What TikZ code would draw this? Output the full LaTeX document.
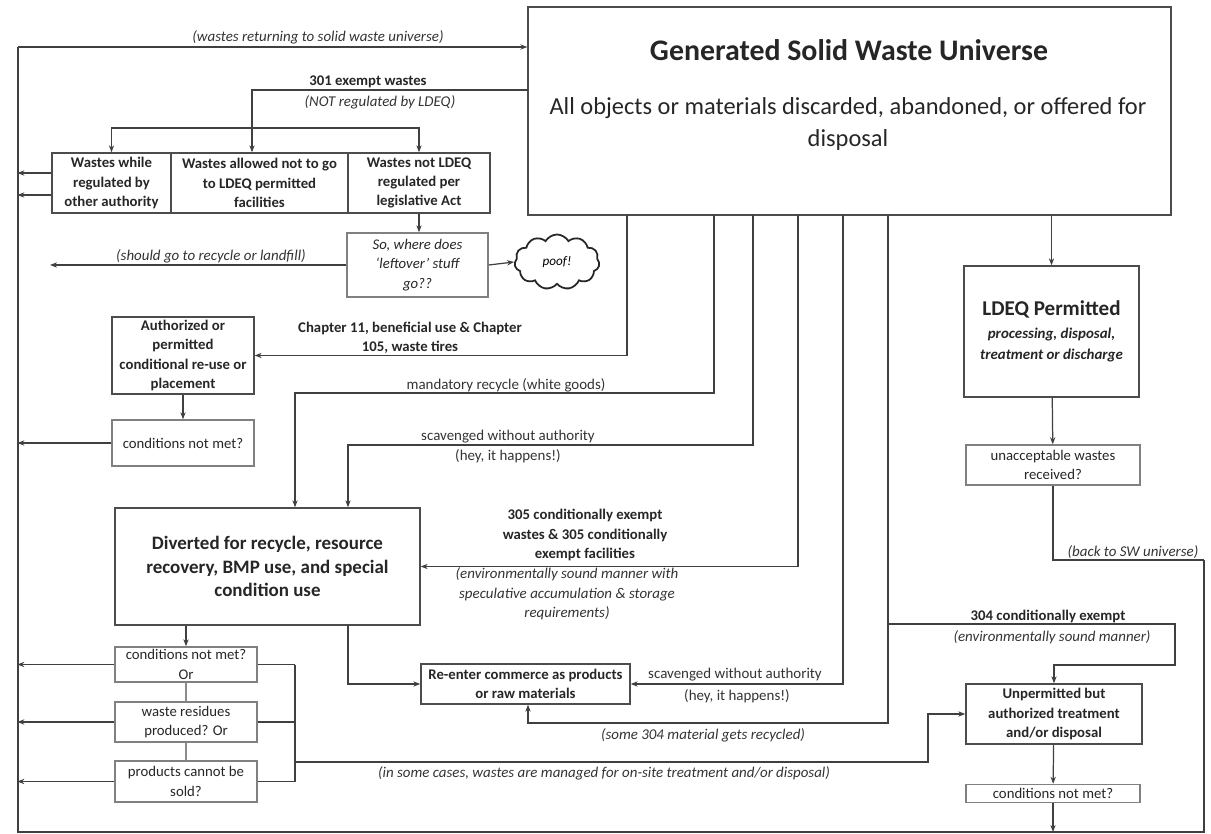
\documentclass[tikz,border=0pt]{standalone}
\usepackage{fontspec}
\setmainfont{Carlito}
\usetikzlibrary{arrows.meta,positioning,shapes.symbols}

\begin{document}
\begin{tikzpicture}[x=0.02cm, y=-0.02cm,
    >={Stealth[length=4pt,width=3pt]},
    flow/.style={draw=black!75, line width=0.7pt},
    box/.style={draw=black!70, line width=0.8pt, align=center, inner sep=1pt, text=black!85},
    sbox/.style={box, font=\fontsize{8.4}{11}\selectfont\bfseries},
    qbox/.style={box, draw=black!50, font=\fontsize{8.4}{11}\selectfont},
    lbl/.style={font=\fontsize{8.5}{11}\selectfont\itshape, align=center, inner sep=0pt, text=black!80},
    rlbl/.style={font=\fontsize{8.5}{11}\selectfont, align=center, inner sep=0pt, text=black!80},
    blbl/.style={font=\fontsize{8.4}{11}\selectfont\bfseries, align=center, inner sep=0pt, text=black!85}]
    \useasboundingbox (0,0) rectangle (1211,834);

    % Universe box
    \node[box, minimum width=12.86cm, minimum height=4.16cm] (gswu) at (849.5,111) {};
    \node[font=\fontsize{17}{20}\selectfont\bfseries, text=black!85] (gswut) at (849,50) {Generated Solid Waste Universe};
    \node[font=\fontsize{13.9}{18}\selectfont, align=center, text=black!85] (gswus) at (848,124)
        {All objects or materials discarded, abandoned, or offered for\\disposal};

    % Outer return loop
    \coordinate (lt) at (18,47);
    \coordinate (lb) at (18,832);
    \coordinate (rb) at (1204,832);
    \coordinate (rt) at (1204,560);
    \draw[flow] (rt) -- (rb) -- (lb) -- (lt);
    \draw[flow, ->] (lt) -- (lt -| gswu.west);
    \node[lbl] (retlbl) at (318,37) {(wastes returning to solid waste universe)};

    % 301 exempt wastes
    \node[sbox, minimum width=2.38cm, minimum height=1.2cm] (w1) at (111.5,183) {Wastes while\\regulated by\\other authority};
    \node[sbox, minimum width=3.54cm, minimum height=1.2cm] (w2) at (259.5,183) {Wastes allowed not to go\\to LDEQ permitted\\facilities};
    \node[sbox, minimum width=2.84cm, minimum height=1.2cm] (w3) at (419,183) {Wastes not LDEQ\\regulated per\\legislative Act};
    \coordinate (g301) at (528,90);
    \coordinate (split) at (252,128);
    \draw[flow] (g301) -| (split);
    \draw[flow, ->] (split) -- (split |- w2.north);
    \draw[flow, ->] (split) -| (w1.north);
    \draw[flow, ->] (split) -| (w3.north);
    \node[blbl] (exlbl) at (368,82) {301 exempt wastes};
    \node[lbl] (nrlbl) at (380,102) {(NOT regulated by LDEQ)};
    \draw[flow, ->] ([yshift=0.2cm]w1.west) -- +(-34,0);
    \draw[flow, ->] ([yshift=-0.24cm]w1.west) -- +(-34,0);

    % where does it go
    \node[qbox, font=\fontsize{8.4}{11}\selectfont\itshape, minimum width=2.82cm, minimum height=1.28cm] (sowhere) at (417.5,265)
        {So, where does\\`leftover' stuff\\go??};
    \node[cloud, cloud puffs=11, cloud puff arc=120, aspect=1.6, draw=black!85, line width=1pt,
        minimum width=1.7cm, minimum height=1.1cm, font=\fontsize{7.5}{9}\selectfont\itshape] (poof) at (557,262) {poof!};
    \draw[flow, ->] (w3.south) -- (w3.south |- sowhere.north);
    \draw[flow, ->] (sowhere.east) -- (poof.west);
    \draw[flow, ->] (sowhere.west) -- (50,265);
    \node[lbl] (shlbl) at (211,256) {(should go to recycle or landfill)};

    % beneficial use
    \node[sbox, minimum width=2.84cm, minimum height=1.54cm] (auth) at (183,355.5) {Authorized or\\permitted\\conditional re-use or\\placement};
    \node[qbox, minimum width=2.84cm, minimum height=0.92cm] (cnm1) at (183,443) {conditions not met?};
    \coordinate (gch) at (627,215);
    \draw[flow, ->] (gch) |- (auth.east);
    \node[blbl] (chlbl) at (410,338) {Chapter 11, beneficial use \& Chapter\\105, waste tires};
    \draw[flow, ->] (auth) -- (cnm1);
    \draw[flow, ->] (cnm1.west) -- +(-94,0);

    % diverted
    \node[box, font=\fontsize{10.8}{13.5}\selectfont\bfseries, minimum width=6.1cm, minimum height=2.34cm] (divert) at (267.5,566.5)
        {Diverted for recycle, resource\\recovery, BMP use, and special\\condition use};
    \coordinate (gmand) at (714,215);
    \coordinate (mandc) at (295,393);
    \draw[flow, ->] (gmand) |- (mandc) -- (mandc |- divert.north);
    \node[rlbl] (mdlbl) at (506,385) {mandatory recycle (white goods)};
    \coordinate (gscav) at (753,215);
    \coordinate (scavc) at (348,445);
    \draw[flow, ->] (gscav) |- (scavc) -- (scavc |- divert.north);
    \node[rlbl] (sclbla) at (508,437) {scavenged without authority};
    \node[rlbl] (sclblb) at (508,456) {(hey, it happens!)};
    \coordinate (g305) at (798,215);
    \draw[flow, ->] (g305) |- (divert.east);
    \node[blbl] (cxlbl) at (585,535) {305 conditionally exempt\\wastes \& 305 conditionally\\exempt facilities};
    \node[lbl] (esmlbl) at (567,594) {(environmentally sound manner with\\speculative accumulation \& storage\\requirements)};

    % checks below diverted
    \node[qbox, minimum width=2.84cm, minimum height=0.7cm] (cnm2) at (186,664.5) {conditions not met?\\Or};
    \node[qbox, minimum width=2.84cm, minimum height=0.8cm] (resid) at (186,722) {waste residues\\produced? Or};
    \node[qbox, minimum width=2.84cm, minimum height=0.82cm] (nosale) at (186,781.5) {products cannot be\\sold?};
    \draw[flow, ->] (cnm2.north |- divert.south) -- (cnm2.north);
    \draw[flow, draw=black!45] (cnm2) -- (resid);
    \draw[flow, draw=black!45] (resid) -- (nosale);
    \foreach \n in {cnm2,resid,nosale}
        \draw[flow, ->] (\n.west) -- +(-97,0);
    \coordinate (rv) at (295,700);
    \foreach \n in {cnm2,resid,nosale}
        \draw[flow] (\n.east) -- (\n.east -| rv);
    \draw[flow] (cnm2.east -| rv) -- (nosale.east -| rv);

    % re-enter commerce
    \node[sbox, minimum width=4.18cm, minimum height=0.8cm] (reenter) at (525.5,684) {Re-enter commerce as products\\or raw materials};
    \coordinate (dvr) at (348,625);
    \draw[flow, ->] (dvr) |- (reenter.west);
    \coordinate (gscavb) at (843,215);
    \draw[flow, ->] (gscavb) |- (reenter.east);
    \node[rlbl] (sc2a) at (735,675) {scavenged without authority};
    \node[rlbl] (sc2b) at (737,696) {(hey, it happens!)};
    \coordinate (g304) at (888,215);
    \coordinate (s304) at (528,723);
    \draw[flow, ->] (g304) |- (s304) -- (s304 |- reenter.south);
    \node[lbl] (s304lbl) at (703,735) {(some 304 material gets recycled)};

    % LDEQ permitted side
    \node[box, minimum width=3.5cm, minimum height=2.62cm] (ldeq) at (1051.5,331.5)
        {{\fontsize{12}{15}\selectfont\bfseries LDEQ Permitted}\\[1pt]
         {\fontsize{8.5}{10.5}\selectfont\bfseries\itshape processing, disposal,}\\
         {\fontsize{8.5}{10.5}\selectfont\bfseries\itshape treatment or discharge}};
    \node[qbox, minimum width=3.48cm, minimum height=0.8cm] (unacc) at (1053,465) {unacceptable wastes\\received?};
    \draw[flow, ->] (ldeq.north |- gswu.south) -- (ldeq.north);
    \draw[flow, ->] (ldeq) -- (unacc);
    \draw[flow] (unacc.south) |- (rt);
    \node[lbl] (backlbl) at (1133,552) {(back to SW universe)};

    % unpermitted but authorized
    \node[sbox, minimum width=3.52cm, minimum height=1.2cm] (unperm) at (1054,714) {Unpermitted but\\authorized treatment\\and/or disposal};
    \node[qbox, minimum width=3.48cm, minimum height=0.36cm] (cnm3) at (1053,793.5) {conditions not met?};
    \coordinate (j304) at (888,624);
    \draw[flow, ->] (j304) -- (1175,624) -- (1175,665) -| (unperm.north);
    \node[blbl] (c304a) at (1048,616) {304 conditionally exempt};
    \node[lbl] (c304b) at (1052,637) {(environmentally sound manner)};
    \coordinate (ons) at (295,762);
    \coordinate (onk) at (928,714);
    \draw[flow, ->] (ons) -| (onk) -- (unperm.west);
    \node[lbl] (oslbl) at (604,773) {(in some cases, wastes are managed for on-site treatment and/or disposal)};
    \draw[flow, ->] (unperm) -- (cnm3);
    \draw[flow, ->] (cnm3.south) -- (cnm3.south |- lb);
\end{tikzpicture}
\end{document}
